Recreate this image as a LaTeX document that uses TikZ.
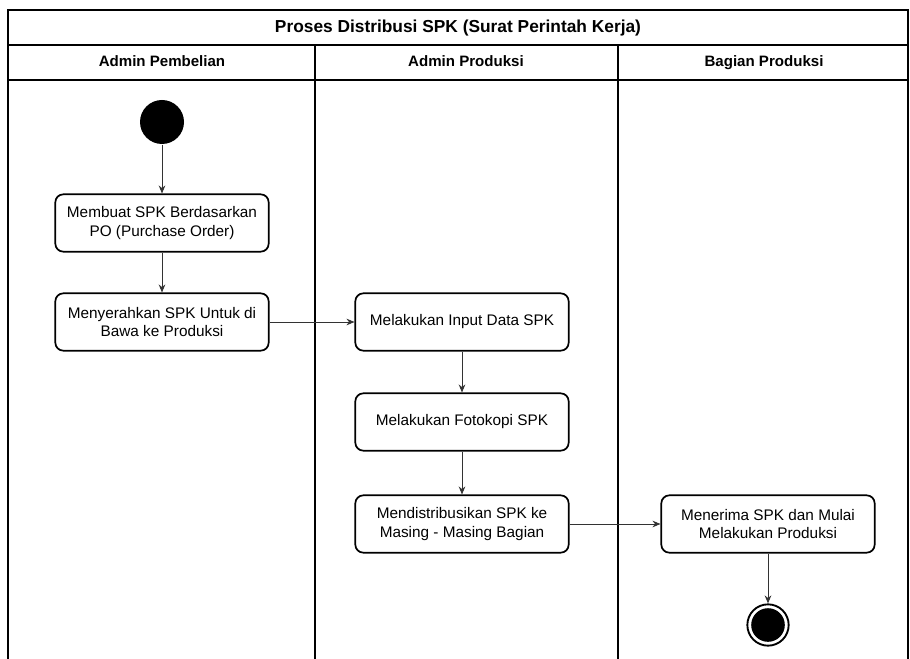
\documentclass[tikz,border=0pt]{standalone}
\usepackage{fontspec}
\setmainfont{Liberation Sans}
\usepackage{tikz}
\usetikzlibrary{arrows.meta, positioning}

\begin{document}
\begin{tikzpicture}[x=0.75pt, y=-0.75pt, thick,
    act/.style={draw, rounded corners=6pt, line width=1.3pt, minimum width=160pt,
        minimum height=43pt, align=center, font=\fontsize{11.5}{14}\selectfont},
    flow/.style={-{Stealth[length=6pt, width=5pt]}, line width=0.7pt, draw=black!80},
    lane/.style={line width=1.4pt},
    head/.style={anchor=base, font=\bfseries\fontsize{11.3}{13}\selectfont}]
    \useasboundingbox (0,0) rectangle (910,659);

    % Swimlanes
    \draw[lane] (8,659) -- (8,10) -- (908,10) -- (908,659);
    \draw[lane] (8,45) -- (908,45);
    \draw[lane] (8,80) -- (908,80);
    \foreach \x in {315, 618} {
        \draw[lane] (\x,45) -- (\x,659);
    }
    \node (title) [anchor=base, font=\bfseries\fontsize{13}{15}\selectfont] at (458,33) {Proses Distribusi SPK (Surat Perintah Kerja)};
    \node (laneA) [head] at (162,67) {Admin Pembelian};
    \node (laneB) [head] at (466,67) {Admin Produksi};
    \node (laneC) [head] at (764,67) {Bagian Produksi};

    % Activities
    \node (start) [circle, fill=black, minimum size=33pt, inner sep=0pt] at (162,122) {};
    \node (po) [act] at (162,223) {Membuat SPK Berdasarkan\\PO (Purchase Order)};
    \node (serah) [act] at (162,322) {Menyerahkan SPK Untuk di\\Bawa ke Produksi};
    \node (input) [act] at (462,322) {Melakukan Input Data SPK};
    \node (fotokopi) [act] at (462,422) {Melakukan Fotokopi SPK};
    \node (distribusi) [act] at (462,524) {Mendistribusikan SPK ke\\Masing - Masing Bagian};
    \node (terima) [act] at (768,524) {Menerima SPK dan Mulai\\Melakukan Produksi};
    \node (finish) [circle, draw, line width=1.4pt, minimum size=31pt, inner sep=0pt,
        path picture={\fill (path picture bounding box.center) circle (12.6pt);}] at (768,625) {};

    % Flow
    \draw[flow] (start) -- (po);
    \draw[flow] (po) -- (serah);
    \draw[flow] (serah) -- (input);
    \draw[flow] (input) -- (fotokopi);
    \draw[flow] (fotokopi) -- (distribusi);
    \draw[flow] (distribusi) -- (terima);
    \draw[flow] (terima) -- (finish);
\end{tikzpicture}
\end{document}
